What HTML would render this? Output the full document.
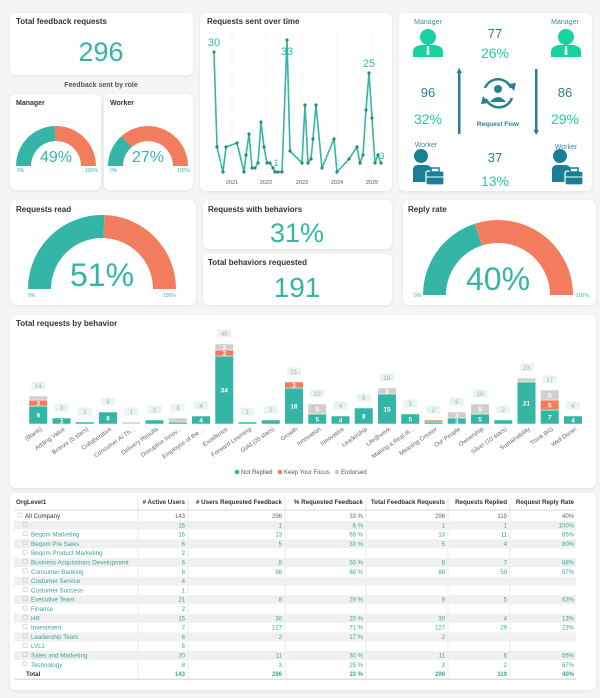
<!DOCTYPE html>
<html><head><meta charset="utf-8"><style>
html,body{margin:0;padding:0;background:#f5f5f5;}
svg{display:block;font-family:"Liberation Sans",Arial,sans-serif;}
</style></head><body>
<svg id="s" width="600" height="698" viewBox="0 0 600 698" xmlns="http://www.w3.org/2000/svg">
<defs><filter id="sh" x="-5%" y="-5%" width="110%" height="115%"><feDropShadow dx="0" dy="1" stdDeviation="1.5" flood-color="#000" flood-opacity="0.08"/></filter></defs>
<rect width="600" height="698" fill="#f5f5f5"/>
<g fill="#fff" filter="url(#sh)">
<rect x="10" y="13" width="183" height="62" rx="6"/>
<rect x="10" y="94" width="91" height="96" rx="6"/>
<rect x="104" y="94" width="89" height="96" rx="6"/>
<rect x="200" y="13" width="192" height="178" rx="6"/>
<rect x="399" y="13" width="193" height="178" rx="6"/>
<rect x="10" y="200" width="186" height="105" rx="6"/>
<rect x="203" y="200" width="189" height="49" rx="6"/>
<rect x="203" y="254" width="189" height="51" rx="6"/>
<rect x="403" y="200" width="193" height="105" rx="6"/>
<rect x="10" y="315" width="586" height="173" rx="6"/>
<rect x="10" y="493" width="586" height="197" rx="6"/>
</g>
<g font-weight="bold" fill="#333" font-size="8">
<text x="16" y="24">Total feedback requests</text>
<text x="16" y="105" font-size="7">Manager</text>
<text x="110" y="105" font-size="7">Worker</text>
<text x="207" y="24">Requests sent over time</text>
<text x="16" y="212">Requests read</text>
<text x="208" y="212">Requests with behaviors</text>
<text x="208" y="265">Total behaviors requested</text>
<text x="408" y="212">Reply rate</text>
<text x="16" y="326">Total requests by behavior</text>
</g>
<text x="101" y="87" font-size="7" fill="#555" text-anchor="middle" font-weight="bold">Feedback sent by role</text>
<g fill="#35b5a5" text-anchor="middle">
<text x="101" y="61" font-size="27">296</text>
<text x="297" y="242" font-size="27">31%</text>
<text x="297" y="297" font-size="28">191</text>
</g>
<!-- small gauges -->
<path d="M16,166 A40 40 0 0 1 54.7,126 L55.2,141 A25 25 0 0 0 31,166Z" fill="#35b5a5"/>
<path d="M54.7,126 A40 40 0 0 1 96,166 L81,166 A25 25 0 0 0 55.2,141Z" fill="#f47c5e"/>
<path d="M108,166 A40 40 0 0 1 121.6,136 L131.5,147.3 A25 25 0 0 0 123,166Z" fill="#35b5a5"/>
<path d="M121.6,136 A40 40 0 0 1 188,166 L173,166 A25 25 0 0 0 131.5,147.3Z" fill="#f47c5e"/>
<g fill="#35b5a5" text-anchor="middle">
<text x="56" y="162" font-size="16">49%</text>
<text x="148" y="162" font-size="16">27%</text>
<text x="102" y="286" font-size="32">51%</text>
<text x="498" y="290" font-size="32">40%</text>
</g>
<g fill="#35b5a5" font-size="5">
<text x="17" y="172">0%</text><text x="85" y="172">100%</text>
<text x="110" y="172">0%</text><text x="177" y="172">100%</text>
<text x="28" y="297">0%</text><text x="163" y="297">100%</text>
<text x="414" y="297">0%</text><text x="576" y="297">100%</text>
</g>
<!-- big gauges -->
<path d="M28,289 A74 74 0 0 1 104.3,215 L103.6,238 A51 51 0 0 0 51,289Z" fill="#35b5a5"/>
<path d="M104.3,215 A74 74 0 0 1 176,289 L153,289 A51 51 0 0 0 103.6,238Z" fill="#f47c5e"/>
<path d="M423,295 A75 75 0 0 1 474.8,223.7 L481.9,245.5 A52 52 0 0 0 446,295Z" fill="#35b5a5"/>
<path d="M474.8,223.7 A75 75 0 0 1 573,295 L550,295 A52 52 0 0 0 481.9,245.5Z" fill="#f47c5e"/>
<!-- line chart -->
<g stroke="#ccc" stroke-width="0.6" stroke-dasharray="1,2">
<line x1="232" y1="30" x2="232" y2="176"/><line x1="266" y1="30" x2="266" y2="176"/><line x1="302" y1="30" x2="302" y2="176"/><line x1="337" y1="30" x2="337" y2="176"/><line x1="372" y1="30" x2="372" y2="176"/>
</g>
<g font-size="5.5" fill="#555" text-anchor="middle">
<text x="232" y="184">2021</text><text x="266" y="184">2022</text><text x="302" y="184">2023</text><text x="337" y="184">2024</text><text x="372" y="184">2025</text>
</g>
<g id="line"></g>
<g fill="#35b5a5" font-size="11" text-anchor="middle">
<text x="214" y="46">30</text><text x="287" y="55">33</text><text x="369" y="67">25</text>
<text x="276" y="166" font-size="9">1</text><text x="382" y="159" font-size="9">3</text>
<text x="338" y="166" font-size="8" fill="#a8ddd5">1</text><text x="221" y="164" font-size="8" fill="#a8ddd5">1</text>
</g>
<!-- flow -->
<g font-size="7" fill="#3a8fa3" text-anchor="middle">
<text x="428" y="24">Manager</text><text x="565" y="24">Manager</text>
<text x="426" y="147">Worker</text><text x="566" y="149">Worker</text>
</g>
<g fill="#2a7f96" font-size="13" text-anchor="middle">
<text x="495" y="38">77</text><text x="428" y="97">96</text><text x="565" y="97">86</text><text x="495" y="162">37</text>
</g>
<g fill="#1fd0a0" font-size="14" text-anchor="middle">
<text x="495" y="58">26%</text><text x="428" y="124">32%</text><text x="565" y="124">29%</text><text x="495" y="186">13%</text>
</g>
<text x="498" y="126" font-size="6.5" font-weight="bold" fill="#2a7f96" text-anchor="middle">Request Flow</text>
<g fill="#2a7f96">
<rect x="458" y="72" width="2.5" height="62"/><path d="M456.5,73 L459.25,68 L462,73Z"/>
<rect x="535" y="69" width="2.5" height="62"/><path d="M533.5,130 L536.25,135 L539,130Z"/>
</g>
<g fill="none" stroke="#2a7f96" stroke-width="2.5">
<path d="M485,88 A14 14 0 0 1 511,88"/><path d="M512,98 A14 14 0 0 1 486,99"/>
</g>
<g fill="#2a7f96"><path d="M508,84 L514,91 L516,83Z"/><path d="M489,103 L483,96 L481,104Z"/>
<circle cx="498" cy="89" r="4"/><path d="M490,102 Q498,92 506,102Z"/></g>
<g id="icons"></g>
<!-- bars -->
<g id="bars"></g>
<g font-size="6" fill="#555">
<circle cx="237" cy="472" r="2.3" fill="#35b5a5"/><text x="241" y="474">Not Replied</text>
<circle cx="280" cy="472" r="2.3" fill="#f47c5e"/><text x="284" y="474">Keep Your Focus</text>
<circle cx="337" cy="472" r="2.3" fill="#ccc"/><text x="341" y="474">Endorsed</text>
</g>
<!-- table -->
<g id="tbl"></g>
</svg>
<script>
var NS="http://www.w3.org/2000/svg";
function el(p,t,a,txt){var e=document.createElementNS(NS,t);for(var k in a)e.setAttribute(k,a[k]);if(txt!=null)e.textContent=txt;p.appendChild(e);return e;}
// line
var pts=[[214,52],[217,147],[223,172],[226,147],[237,143],[244,172],[246,155],[249,134],[252,168],[255,168],[258,163],[261,122],[264,147],[267,163],[270,163],[273,168],[275,172],[278,172],[282,172],[287,40],[290,151],[302,163],[305,105],[308,163],[311,159],[313,139],[316,105],[322,168],[334,139],[337,172],[349,159],[357,147],[360,163],[363,155],[366,110],[369,73],[372,118],[375,163],[378,155],[381,163]];
var L=document.getElementById("line");
el(L,"polyline",{points:pts.map(function(p){return p.join(",")}).join(" "),fill:"none",stroke:"#35b5a5","stroke-width":"1.6"});
pts.forEach(function(p){el(L,"circle",{cx:p[0],cy:p[1],r:"1.6",fill:"#2a8a7e"});});
// icons
var I=document.getElementById("icons");
function mgr(x,c){el(I,"circle",{cx:x,cy:37,r:8,fill:c});el(I,"path",{d:"M"+(x-15)+",57 L"+(x-15)+",52 Q"+(x-15)+",46 "+(x-7)+",45 L"+(x+7)+",45 Q"+(x+15)+",46 "+(x+15)+",52 L"+(x+15)+",57Z",fill:c});el(I,"path",{d:"M"+(x-1)+",46 L"+(x+1)+",46 L"+(x+1.5)+",55 L"+(x-1.5)+",55Z",fill:"#fff"});}
mgr(428,"#16d39f");mgr(566,"#16d39f");
function wk(x,c){el(I,"circle",{cx:x,cy:156,r:7,fill:c});el(I,"path",{d:"M"+(x-8)+",182 L"+(x-8)+",170 Q"+(x-8)+",165 "+(x-3)+",165 L"+(x+5)+",165 Q"+(x+10)+",165 "+(x+11)+",170 L"+(x+11)+",182Z",fill:c});el(I,"rect",{x:x+5,y:171,width:18,height:14,rx:2,fill:c,stroke:"#fff","stroke-width":"1.2"});el(I,"line",{x1:x+5,y1:177,x2:x+23,y2:177,stroke:"#fff","stroke-width":"1"});el(I,"rect",{x:x+10,y:168,width:8,height:4,fill:"none",stroke:c,"stroke-width":"1.5"});}
wk(421,"#1a7f96");wk(560,"#1a7f96");
// bars
var D=[["(Blank)",9,3,2],["Adding Value",3,0,0],["Bronze (5 stars)",1,0,0],["Collaborative",6,0,0],["Consumer AI Th...",0,0,1],["Delivery Results",2,0,0],["Disruptive Innov...",1,0,2],["Employee of the ...",4,0,0],["Excellence",34,3,3],["Forward Learning",1,0,0],["Gold (20 stars)",2,0,0],["Growth",18,3,0],["Innovation",5,0,5],["Innovative",4,0,0],["Leadership",8,0,0],["Life@work",15,0,3],["Making a Real di...",5,0,0],["Meaning Creator",1,1,0],["Our People",3,0,3],["Ownership",5,0,5],["Silver (10 stars)",2,0,0],["Sustainability",21,0,2],["Think BIG",7,5,5],["Well Done!",4,0,0]];
var B=document.getElementById("bars"),base=424,u=2,cols=["#35b5a5","#f47c5e","#cfcfcf"];
D.forEach(function(d,i){var x=29+23.25*i,w=18.5,y=base,tot=d[1]+d[2]+d[3];
 for(var k=1;k<=3;k++){if(!d[k])continue;var h=d[k]*u;y-=h;el(B,"rect",{x:x,y:y,width:w,height:h,fill:cols[k-1],stroke:"#fff","stroke-width":"0.5"});
  if(d[k]>=3)el(B,"text",{x:x+w/2,y:y+h/2+2.3,"font-size":"6.5","font-weight":"bold",fill:"#fff","text-anchor":"middle"},d[k]);}
 var ty=base-tot*u-10;el(B,"rect",{x:x+w/2-7,y:ty-4.5,width:14,height:8,rx:1.5,fill:"#e8f4f2"});
 el(B,"text",{x:x+w/2,y:ty+2,"font-size":"6",fill:"#aaa","text-anchor":"middle"},tot);
 el(B,"text",{x:x+w/2+4,y:base+6,"font-size":"6",fill:"#666","text-anchor":"end",transform:"rotate(-35 "+(x+w/2+4)+" "+(base+6)+")"},d[0]);
});
// table
var T=document.getElementById("tbl");
var ends=[185,282,363,445,507,574];
var hd=["# Active Users","# Users Requested Feedback","% Requested Feedback","Total Feedback Requests","Requests Replied","Request Reply Rate"];
el(T,"text",{x:16,y:504,"font-size":"6.2","font-weight":"bold",fill:"#333"},"OrgLevel1");
hd.forEach(function(h,i){el(T,"text",{x:ends[i],y:504,"font-size":"6.2","font-weight":"bold",fill:"#333","text-anchor":"end"},h);});
[138,188,285,366,448,510].forEach(function(x){el(T,"line",{x1:x,y1:497,x2:x,y2:678,stroke:"#e2e2e2","stroke-width":"0.7"});});
el(T,"line",{x1:14,y1:510,x2:576,y2:510,stroke:"#ccc","stroke-width":"0.8"});
var R=[["",16,1,"6 %",1,1,"100%"],["Beqom Marketing",16,13,"69 %",13,11,"85%"],["Beqom Pre Sales",6,5,"33 %",5,4,"80%"],["Beqom Product Marketing",2,"","","","",""],["Business Acquisitions Development",6,8,"50 %",8,7,"88%"],["Consumer Banking",8,88,"88 %",88,50,"57%"],["Customer Service",4,"","","","",""],["Customer Success",1,"","","","",""],["Executive Team",21,8,"29 %",8,5,"63%"],["Finance",2,"","","","",""],["HR",15,30,"20 %",30,4,"13%"],["Investment",7,127,"71 %",127,29,"23%"],["Leadership Team",6,2,"17 %",2,"",""],["LVL1",5,"","","","",""],["Sales and Marketing",20,11,"30 %",11,6,"55%"],["Technology",8,3,"25 %",3,2,"67%"]];
var y0=518,st=9.3;
el(T,"rect",{x:18,y:y0-5,width:4,height:4,fill:"none",stroke:"#bbb","stroke-width":"0.5"});
el(T,"text",{x:25,y:y0,"font-size":"6.2",fill:"#333"},"All Company");
[143,296,"33 %",296,119,"40%"].forEach(function(v,i){el(T,"text",{x:ends[i],y:y0,"font-size":"6","text-anchor":"end",fill:"#666"},v);});
R.forEach(function(r,j){var y=y0+st*(j+1);
 if(j%2==0)el(T,"rect",{x:14,y:y-6.5,width:562,height:9,fill:"#f0f0f0"});
 el(T,"rect",{x:23,y:y-5,width:4,height:4,fill:"none",stroke:"#bbb","stroke-width":"0.5"});
 el(T,"text",{x:31,y:y,"font-size":"6.2",fill:"#3aa597"},r[0]);
 for(var i=1;i<7;i++)el(T,"text",{x:ends[i-1],y:y,"font-size":"6","text-anchor":"end",fill:"#3aa597"},r[i]);
});
var yt=y0+st*17;
el(T,"text",{x:26,y:yt,"font-size":"6.2","font-weight":"bold",fill:"#333"},"Total");
[143,296,"33 %",296,119,"40%"].forEach(function(v,i){el(T,"text",{x:ends[i],y:yt,"font-size":"6","font-weight":"bold","text-anchor":"end",fill:"#3aa597"},v);});
el(T,"line",{x1:14,y1:yt+3,x2:576,y2:yt+3,stroke:"#ccc","stroke-width":"1"});
</script>
</body></html>
